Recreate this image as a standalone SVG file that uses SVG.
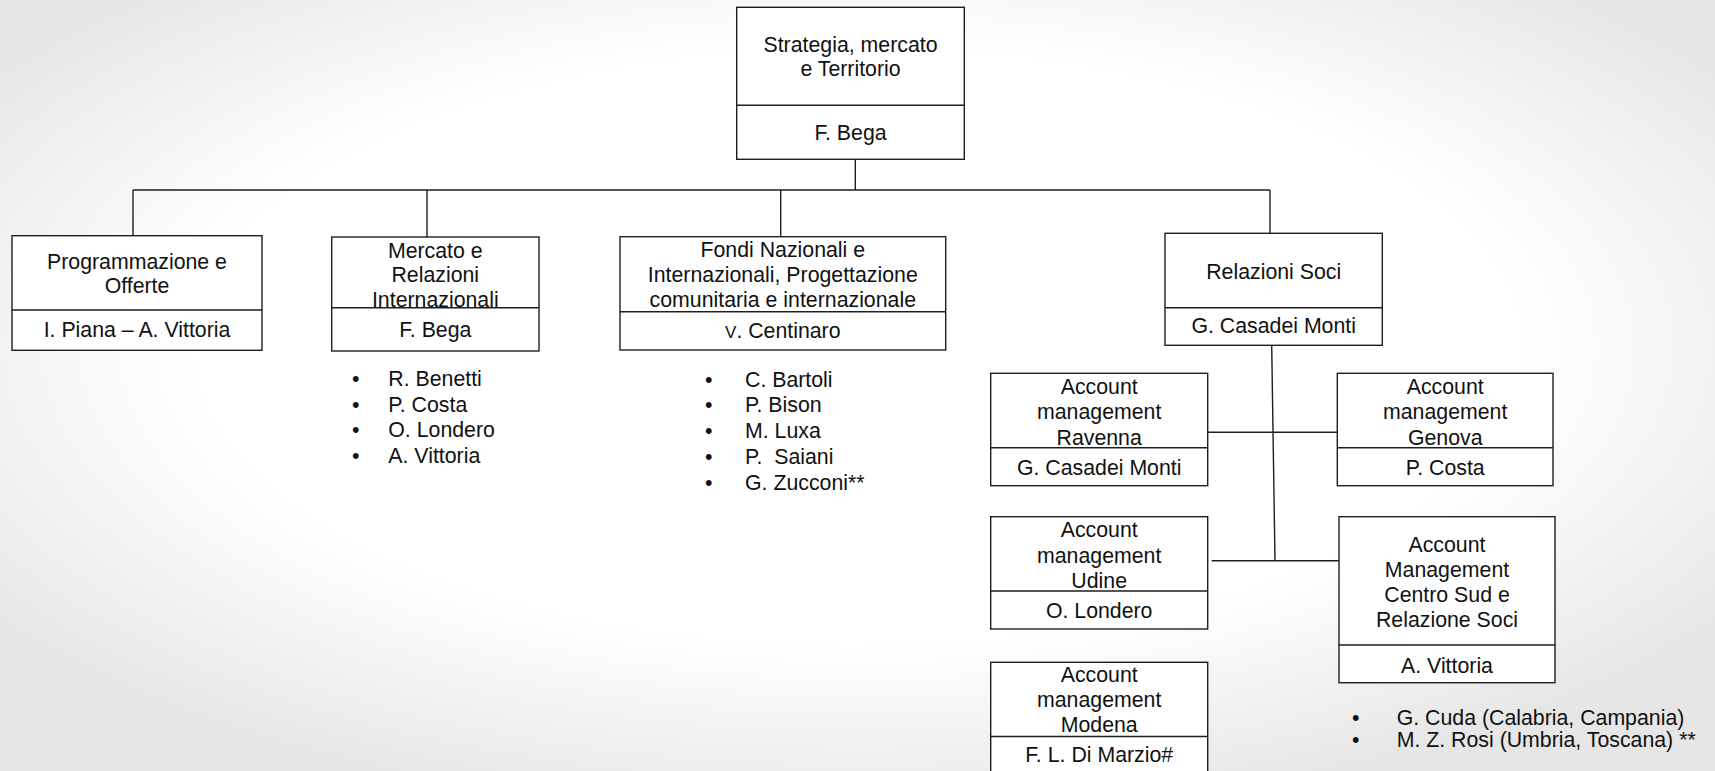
<svg xmlns="http://www.w3.org/2000/svg" width="1715" height="771" viewBox="0 0 1715 771">
<defs>
<radialGradient id="bg" cx="0.5" cy="0.45" r="0.62">
<stop offset="0" stop-color="#ffffff"/>
<stop offset="0.62" stop-color="#ffffff"/>
<stop offset="1" stop-color="#e6e6e6"/>
</radialGradient>
</defs>
<style>
.box{fill:#ffffff;stroke:#1e1e1e;stroke-width:1.4}
.div{stroke:#1e1e1e;stroke-width:1.4}
.con{stroke:#1e1e1e;stroke-width:1.4;fill:none}
text{font-family:"Liberation Sans",Arial,sans-serif;font-size:21.3px;fill:#111111}
.c{text-anchor:middle}
</style>
<rect x="0" y="0" width="1715" height="771" fill="url(#bg)"/>
<g id="connectors">
<line class="con" x1="855.3" y1="159.3" x2="855.3" y2="190"/>
<line class="con" x1="133" y1="190" x2="1270" y2="190"/>
<line class="con" x1="133" y1="190" x2="133" y2="235.7"/>
<line class="con" x1="427" y1="190" x2="427" y2="237"/>
<line class="con" x1="780.7" y1="190" x2="780.7" y2="236.7"/>
<line class="con" x1="1270" y1="190" x2="1270" y2="233.3"/>
<line class="con" x1="1271.7" y1="345.3" x2="1275" y2="561"/>
<line class="con" x1="1207.7" y1="432.3" x2="1337.3" y2="432.3"/>
<line class="con" x1="1211.7" y1="560.7" x2="1341.7" y2="560.7"/>
</g>
<g id="strategia">
<rect class="box" x="736.7" y="7.3" width="227.6" height="152"/>
<line class="div" x1="736.7" y1="105.3" x2="964.3" y2="105.3"/>
<text class="c" x="850.5" y="52.3">Strategia, mercato</text>
<text class="c" x="850.5" y="76.3">e Territorio</text>
<text class="c" x="850.5" y="140">F. Bega</text>
</g>
<g id="programmazione">
<rect class="box" x="12" y="235.7" width="250" height="114.6"/>
<line class="div" x1="12" y1="310" x2="262" y2="310"/>
<text class="c" x="137" y="269">Programmazione e</text>
<text class="c" x="137" y="293">Offerte</text>
<text class="c" x="137" y="337">I. Piana – A. Vittoria</text>
</g>
<g id="mercato">
<rect class="box" x="331.7" y="237" width="207.3" height="114"/>
<line class="div" x1="331.7" y1="307.7" x2="539" y2="307.7"/>
<text class="c" x="435.3" y="258.3">Mercato e</text>
<text class="c" x="435.3" y="282">Relazioni</text>
<text class="c" x="435.3" y="306.5">Internazionali</text>
<text class="c" x="435.3" y="337">F. Bega</text>
</g>
<g id="mercato-list">
<text x="352" y="386">•</text><text x="388.3" y="386">R. Benetti</text>
<text x="352" y="411.5">•</text><text x="388.3" y="411.5">P. Costa</text>
<text x="352" y="437">•</text><text x="388.3" y="437">O. Londero</text>
<text x="352" y="462.5">•</text><text x="388.3" y="462.5">A. Vittoria</text>
</g>
<g id="fondi">
<rect class="box" x="620" y="236.7" width="325.7" height="113.3"/>
<line class="div" x1="620" y1="311.7" x2="945.7" y2="311.7"/>
<text class="c" x="782.8" y="256.7">Fondi Nazionali e</text>
<text class="c" x="782.8" y="281.7">Internazionali, Progettazione</text>
<text class="c" x="782.8" y="306.5">comunitaria e internazionale</text>
<text class="c" x="782.8" y="338.3"><tspan font-size="17px">V</tspan>. Centinaro</text>
</g>
<g id="fondi-list">
<text x="705" y="386.5">•</text><text x="745" y="386.5">C. Bartoli</text>
<text x="705" y="412.2">•</text><text x="745" y="412.2">P. Bison</text>
<text x="705" y="438">•</text><text x="745" y="438">M. Luxa</text>
<text x="705" y="463.7">•</text><text x="745" y="463.7" xml:space="preserve">P.  Saiani</text>
<text x="705" y="489.5">•</text><text x="745" y="489.5">G. Zucconi**</text>
</g>
<g id="relazioni-soci">
<rect class="box" x="1165" y="233.3" width="217.3" height="112"/>
<line class="div" x1="1165" y1="307.7" x2="1382.3" y2="307.7"/>
<text class="c" x="1273.7" y="279.3">Relazioni Soci</text>
<text class="c" x="1273.7" y="332.5">G. Casadei Monti</text>
</g>
<g id="ravenna">
<rect class="box" x="990.7" y="373.3" width="217" height="112.4"/>
<line class="div" x1="990.7" y1="447.7" x2="1207.7" y2="447.7"/>
<text class="c" x="1099.2" y="393.5">Account</text>
<text class="c" x="1099.2" y="419.3">management</text>
<text class="c" x="1099.2" y="444.5">Ravenna</text>
<text class="c" x="1099.2" y="474.5">G. Casadei Monti</text>
</g>
<g id="genova">
<rect class="box" x="1337.3" y="373.3" width="215.7" height="112.4"/>
<line class="div" x1="1337.3" y1="447.7" x2="1553" y2="447.7"/>
<text class="c" x="1445.2" y="393.5">Account</text>
<text class="c" x="1445.2" y="419.3">management</text>
<text class="c" x="1445.2" y="444.5">Genova</text>
<text class="c" x="1445.2" y="474.5">P. Costa</text>
</g>
<g id="udine">
<rect class="box" x="990.7" y="516.7" width="217" height="112.3"/>
<line class="div" x1="990.7" y1="591" x2="1207.7" y2="591"/>
<text class="c" x="1099.2" y="536.7">Account</text>
<text class="c" x="1099.2" y="562.7">management</text>
<text class="c" x="1099.2" y="588.3">Udine</text>
<text class="c" x="1099.2" y="618.3">O. Londero</text>
</g>
<g id="modena">
<rect class="box" x="990.7" y="662.3" width="217" height="115"/>
<line class="div" x1="990.7" y1="736.5" x2="1207.7" y2="736.5"/>
<text class="c" x="1099.2" y="681.7">Account</text>
<text class="c" x="1099.2" y="706.7">management</text>
<text class="c" x="1099.2" y="731.7">Modena</text>
<text class="c" x="1099.2" y="761.7">F. L. Di Marzio#</text>
</g>
<g id="centro-sud">
<rect class="box" x="1339" y="516.7" width="216" height="166"/>
<line class="div" x1="1339" y1="645" x2="1555" y2="645"/>
<text class="c" x="1447" y="551.7">Account</text>
<text class="c" x="1447" y="576.7">Management</text>
<text class="c" x="1447" y="601.7">Centro Sud e</text>
<text class="c" x="1447" y="626.7">Relazione Soci</text>
<text class="c" x="1447" y="673.3">A. Vittoria</text>
</g>
<g id="centro-sud-list">
<text x="1352" y="724.5">•</text><text x="1396.7" y="724.5">G. Cuda (Calabria, Campania)</text>
<text x="1352" y="746.5">•</text><text x="1396.7" y="746.5">M. Z. Rosi (Umbria, Toscana) **</text>
</g>
</svg>
